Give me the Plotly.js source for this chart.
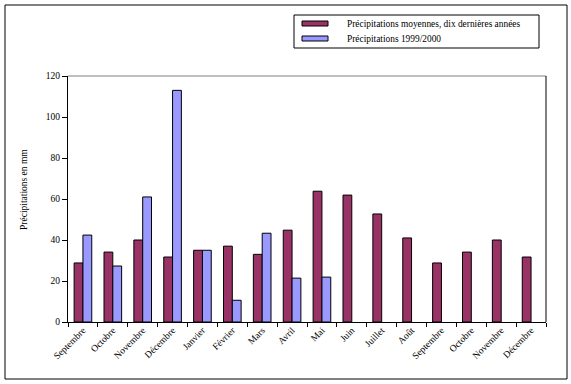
<!DOCTYPE html>
<html>
<head>
<meta charset="utf-8">
<script src="https://cdn.plot.ly/plotly-3.0.1.min.js"></script>
<style>html,body{margin:0;padding:0;background:#fff;}#chart{width:571px;height:384px;}</style>
</head>
<body>
<div id="chart"></div>
<script>
const months = ['Septembre','Octobre','Novembre','Décembre','Janvier','Février','Mars','Avril','Mai','Juin','Juillet','Août','Septembre','Octobre','Novembre','Décembre'];
const moyennes = [28.8, 34.1, 40, 31.7, 35, 37, 33, 44.8, 63.8, 61.9, 52.7, 41, 28.8, 34.1, 40, 31.7];
const precip9900 = [42.4, 27.3, 61, 113, 35, 10.6, 43.3, 21.4, 21.9, null, null, null, null, null, null, null];
const seriesNames = ['Précipitations moyennes, dix dernières années', 'Précipitations 1999/2000'];
const seriesColors = ['#993366', '#9999FF'];
const yTicks = [0, 20, 40, 60, 80, 100, 120];

const W = 571, H = 384;
const M = {l: 68, r: 25, t: 76, b: 62};
const PW = W - M.l - M.r, PH = H - M.t - M.b;
const px = x => (x - M.l) / PW;
const py = y => (H - M.b - y) / PH;

const idx = months.map((_, i) => i);
const FONT = 'Liberation Serif';

const traces = [
  {type: 'bar', x: idx, y: moyennes, name: seriesNames[0],
   marker: {color: seriesColors[0], line: {color: '#000', width: 1}}},
  {type: 'bar', x: idx, y: precip9900, name: seriesNames[1],
   marker: {color: seriesColors[1], line: {color: '#000', width: 1}}}
];

const boundaries = months.map((_, i) => i - 0.5).concat([months.length - 0.5]);

const shapes = [
  {type: 'rect', xref: 'paper', yref: 'paper', x0: px(5), x1: px(567), y0: py(379), y1: py(5),
   line: {color: '#000', width: 1}},
  {type: 'line', xref: 'paper', yref: 'paper', x0: 0, x1: 1, y0: 1, y1: 1, line: {color: '#808080', width: 1}},
  {type: 'line', xref: 'paper', yref: 'paper', x0: 1, x1: 1, y0: 0, y1: 1, line: {color: '#000', width: 1}},
  {type: 'rect', xref: 'paper', yref: 'paper', x0: px(294), x1: px(539), y0: py(48), y1: py(15),
   line: {color: '#000', width: 1}}
];
const rows = [23.5, 38.5];
const annotations = [];
seriesNames.forEach((n, i) => {
  shapes.push({type: 'rect', xref: 'paper', yref: 'paper', x0: px(302), x1: px(328),
    y0: py(rows[i] + 2.5), y1: py(rows[i] - 2.5), fillcolor: seriesColors[i], line: {color: '#000', width: 1}});
  annotations.push({xref: 'paper', yref: 'paper', x: px(345), y: py(rows[i]), xanchor: 'left', yanchor: 'middle',
    text: n, showarrow: false, font: {family: FONT, size: 9.4, color: '#000'}});
});
annotations.push({xref: 'paper', yref: 'paper', x: px(24), y: py(190), xanchor: 'center', yanchor: 'middle',
  text: 'Précipitations en mm', textangle: -90, showarrow: false, font: {family: FONT, size: 9.5, color: '#000'}});

const layout = {
  width: W, height: H,
  margin: M,
  paper_bgcolor: '#fff', plot_bgcolor: '#fff',
  showlegend: false,
  barmode: 'group', bargap: 0.41, bargroupgap: 0,
  font: {family: FONT, size: 9.5, color: '#000'},
  xaxis: {range: [-0.5, months.length - 0.5], tickmode: 'array', tickvals: boundaries,
    ticktext: boundaries.map(() => ''), ticks: 'outside', ticklen: 4, tickcolor: '#000', tickwidth: 1,
    showline: true, linecolor: '#000', linewidth: 1, showgrid: false, zeroline: false, fixedrange: true},
  xaxis2: {overlaying: 'x', side: 'bottom', anchor: 'y', range: [-0.5, months.length - 0.5],
    tickmode: 'array', tickvals: idx, ticktext: months, ticks: '', tickangle: -45,
    showline: false, showgrid: false, zeroline: false, tickfont: {family: FONT, size: 9.5, color: '#000'}},
  yaxis: {range: [0, 120], tickmode: 'array', tickvals: yTicks, ticks: 'outside', ticklen: 5,
    tickcolor: '#000', tickwidth: 1, showline: true, linecolor: '#000', linewidth: 1,
    showgrid: false, zeroline: false, tickfont: {family: FONT, size: 9.5, color: '#000'}},
  shapes: shapes,
  annotations: annotations
};

traces.push({type: 'scatter', x: [0], y: [null], xaxis: 'x2', yaxis: 'y', showlegend: false, hoverinfo: 'skip'});

Plotly.newPlot('chart', traces, layout, {displayModeBar: false, staticPlot: true});
</script>
</body>
</html>
